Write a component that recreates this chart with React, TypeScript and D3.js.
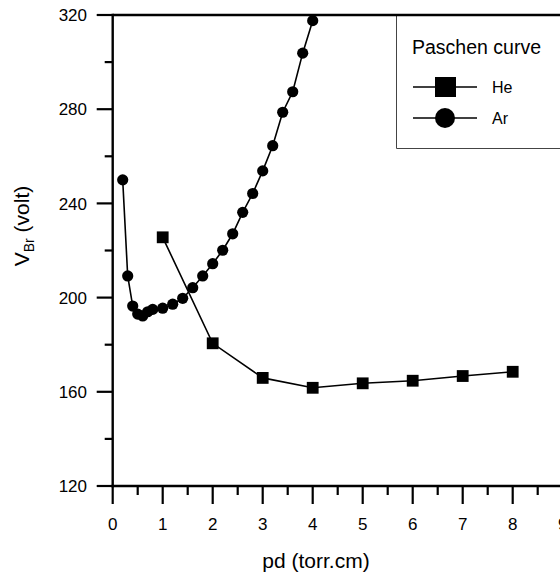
import React from "react";
import * as d3 from "d3";

const heX = [1, 2, 3, 4, 5, 6, 7, 8];
const heV = [225.6, 180.6, 165.9, 161.7, 163.6, 164.7, 166.7, 168.5];

const arX = [0.2, 0.3, 0.4, 0.5, 0.6, 0.7, 0.8, 1.0, 1.2, 1.4, 1.6, 1.8, 2.0, 2.2, 2.4, 2.6, 2.8, 3.0, 3.2, 3.4, 3.6, 3.8, 4.0];
const arV = [250, 209.2, 196.4, 193.0, 192.2, 194.0, 195.0, 195.5, 197.2, 199.7, 204.2, 209.2, 214.4, 220.1, 227.1, 236.2, 244.2, 253.8, 264.5, 278.7, 287.4, 303.8, 317.6];

const xMajorTicks = [0, 1, 2, 3, 4, 5, 6, 7, 8, 9];
const xMinorTicks = [0.5, 1.5, 2.5, 3.5, 4.5, 5.5, 6.5, 7.5, 8.5];
const yMajorTicks = [120, 160, 200, 240, 280, 320];
const yMinorTicks = [140, 180, 220, 260, 300];

const legendTitle = "Paschen curve";
const seriesNames = ["He", "Ar"];

const W = 560;
const H = 574;
const FONT = "'Liberation Sans', Arial, Helvetica, sans-serif";

export default function App() {
  const x = d3.scaleLinear().domain([0, 9]).range([112.7, 562.7]);
  const y = d3.scaleLinear().domain([120, 320]).range([486, 15]);

  const he = heX.map((v, i) => [v, heV[i]] as [number, number]);
  const ar = arX.map((v, i) => [v, arV[i]] as [number, number]);

  const line = d3
    .line<[number, number]>()
    .x((d) => x(d[0]))
    .y((d) => y(d[1]));

  const x0 = x(0);
  const yBottom = y(120);
  const yTop = y(320);

  return (
    <svg
      width={W}
      height={H}
      style={{ position: "fixed", left: 0, top: 0, background: "#fff" }}
      fontFamily={FONT}
    >
      <rect x={0} y={0} width={W} height={H} fill="#fff" />

      {/* data lines */}
      <path d={line(ar) || ""} fill="none" stroke="#000" strokeWidth={1.6} />
      <path d={line(he) || ""} fill="none" stroke="#000" strokeWidth={1.6} />

      {/* markers */}
      {ar.map((d, i) => (
        <circle key={"a" + i} cx={x(d[0])} cy={y(d[1])} r={5.6} fill="#000" />
      ))}
      {he.map((d, i) => (
        <rect
          key={"h" + i}
          x={x(d[0]) - 5.9}
          y={y(d[1]) - 5.9}
          width={11.8}
          height={11.8}
          fill="#000"
        />
      ))}

      {/* legend */}
      <g>
        <path
          d={`M${W + 5},15.5 H396.5 V148.5 H${W + 5}`}
          fill="none"
          stroke="#444"
          strokeWidth={1}
        />
        <text x={412} y={54} fontSize={19.5} fill="#000">
          {legendTitle}
        </text>
        <line x1={413} x2={477} y1={87} y2={87} stroke="#000" strokeWidth={1.6} />
        <rect x={435} y={77} width={21} height={20} fill="#000" />
        <text x={492} y={87} dy="0.36em" fontSize={16} fill="#000">
          {seriesNames[0]}
        </text>
        <line x1={413} x2={477} y1={118} y2={118} stroke="#000" strokeWidth={1.6} />
        <circle cx={445} cy={118} r={10} fill="#000" />
        <text x={492} y={118} dy="0.36em" fontSize={16} fill="#000">
          {seriesNames[1]}
        </text>
      </g>

      {/* axes frame */}
      <line x1={x0} x2={W + 5} y1={yTop} y2={yTop} stroke="#000" strokeWidth={2.6} />
      <line x1={x0} x2={x0} y1={yTop - 1.3} y2={yBottom + 1.3} stroke="#000" strokeWidth={2.4} />
      <line x1={x0 - 1.2} x2={W + 5} y1={yBottom} y2={yBottom} stroke="#000" strokeWidth={2.4} />

      {/* x ticks */}
      {xMajorTicks.map((t) => (
        <g key={"xt" + t}>
          <line x1={x(t)} x2={x(t)} y1={yBottom} y2={yBottom + 18} stroke="#000" strokeWidth={2.2} />
          <text x={x(t)} y={530} textAnchor="middle" fontSize={17} fill="#000">
            {t}
          </text>
        </g>
      ))}
      {xMinorTicks.map((t) => (
        <line key={"xm" + t} x1={x(t)} x2={x(t)} y1={yBottom} y2={yBottom + 9} stroke="#000" strokeWidth={2.2} />
      ))}

      {/* y ticks */}
      {yMajorTicks.map((t) => (
        <g key={"yt" + t}>
          <line x1={x0 - 16} x2={x0} y1={y(t)} y2={y(t)} stroke="#000" strokeWidth={2.2} />
          <text x={87} y={y(t)} dy="0.36em" textAnchor="end" fontSize={17} fill="#000">
            {t}
          </text>
        </g>
      ))}
      {yMinorTicks.map((t) => (
        <line key={"ym" + t} x1={x0 - 8} x2={x0} y1={y(t)} y2={y(t)} stroke="#000" strokeWidth={2.2} />
      ))}

      {/* axis titles */}
      <text x={316} y={568} textAnchor="middle" fontSize={21} fill="#000">
        pd (torr.cm)
      </text>
      <text
        transform="translate(29,226) rotate(-90)"
        textAnchor="middle"
        fontSize={21}
        fill="#000"
      >
        V
        <tspan fontSize={14} dy={5}>Br</tspan>
        <tspan dy={-5}> (volt)</tspan>
      </text>
    </svg>
  );
}
